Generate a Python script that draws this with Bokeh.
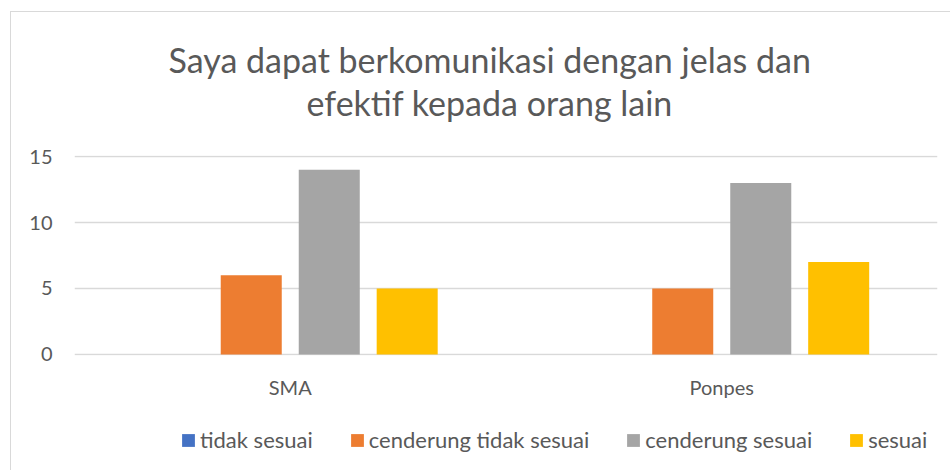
from bokeh.plotting import figure
from bokeh.layouts import column
from bokeh.models import (ColumnDataSource, FactorRange, Range1d, Legend, LegendItem,
                          Title, FixedTicker)
from bokeh.transform import dodge
from bokeh.embed import file_html
from bokeh.resources import INLINE

# ---- data ----
title_lines = ["Saya dapat berkomunikasi dengan jelas dan", "efektif kepada orang lain"]
categories = ["SMA", "Ponpes"]
series_names = ["tidak sesuai", "cenderung tidak sesuai", "cenderung sesuai", "sesuai"]
tidak_sesuai = [0, 0]
cenderung_tidak_sesuai = [6, 5]
cenderung_sesuai = [14, 13]
sesuai = [5, 7]
y_ticks = [0, 5, 10, 15]

# ---- styles ----
colors = ["#4472C4", "#ED7D31", "#A5A5A5", "#FFC000"]
FONT = "Lato"
TXT = "#595959"
GRID = "#D9D9D9"

src = ColumnDataSource(dict(
    cat=categories,
    s0=tidak_sesuai,
    s1=cenderung_tidak_sesuai,
    s2=cenderung_sesuai,
    s3=sesuai,
))

p = figure(
    x_range=FactorRange(*categories, range_padding=0),
    y_range=Range1d(-0.076, 15.076),
    frame_width=863, frame_height=200,
    min_border_left=63, min_border_right=13,
    min_border_top=143, min_border_bottom=50,
    output_backend="svg", toolbar_location=None, title=None,
)
p.outline_line_color = None
p.background_fill_color = "white"
p.border_fill_color = "white"

offsets = [-0.271, -0.0904, 0.0904, 0.271]
bar_w = 0.1414
for i, col in enumerate(["s0", "s1", "s2", "s3"]):
    p.vbar(x=dodge("cat", offsets[i], range=p.x_range), top=col, bottom=0,
           width=bar_w, source=src, fill_color=colors[i], line_color=None)

# axes
p.xgrid.grid_line_color = None
p.ygrid.ticker = FixedTicker(ticks=y_ticks)
p.ygrid.grid_line_color = GRID
p.ygrid.grid_line_width = 1.5

p.yaxis.ticker = FixedTicker(ticks=y_ticks)
for ax in (p.xaxis[0], p.yaxis[0]):
    ax.axis_line_color = None
    ax.major_tick_line_color = None
    ax.minor_tick_line_color = None
    ax.major_tick_out = 0
    ax.major_tick_in = 0
    ax.major_label_text_font = FONT
    ax.major_label_text_font_size = "20px"
    ax.major_label_text_color = TXT
p.yaxis.major_label_standoff = 22
p.xaxis.major_label_standoff = 19

# title: two lines, inner one first (closest to the plot)
p.add_layout(Title(text=title_lines[1] + "\n", align="left", offset=232, standoff=0,
                   text_font=FONT, text_font_size="34px", text_color=TXT,
                   text_font_style="normal", text_line_height=0.8), "above")
p.add_layout(Title(text=title_lines[0], align="left", offset=94, standoff=0,
                   text_font=FONT, text_font_size="34px", text_color=TXT,
                   text_font_style="normal"), "above")

# ---- legend strip (separate small figure, legend inside its frame) ----
lg = figure(
    x_range=Range1d(0, 1), y_range=Range1d(0, 1),
    width=939, height=65, sizing_mode="fixed",
    min_border_left=0, min_border_right=0, min_border_top=0, min_border_bottom=0,
    x_axis_location=None, y_axis_location=None,
    output_backend="svg", toolbar_location=None, title=None,
)
lg.outline_line_color = None
lg.grid.grid_line_color = None
lg.background_fill_color = "white"
lg.border_fill_color = "white"

leg_src = ColumnDataSource(dict(x=[-5.0], top=[0.0]))
leg_renderers = [
    lg.vbar(x="x", top="top", bottom=0, width=0.01, source=leg_src,
            fill_color=c, line_color=None)
    for c in colors
]

legend = Legend(
    items=[LegendItem(label=n, renderers=[r]) for n, r in zip(series_names, leg_renderers)],
    orientation="horizontal", location=(106, 17),
    glyph_width=16, glyph_height=16, label_standoff=4, spacing=36,
    padding=0, margin=0, border_line_color=None, background_fill_alpha=0,
    label_text_font=FONT, label_text_font_size="22px", label_text_color=TXT,
    label_height=24,
)
lg.add_layout(legend, "center")

layout = column(
    p, lg, spacing=0,
    styles={"margin-left": "10px", "margin-top": "11px",
            "border-left": "1px solid #D9D9D9", "border-top": "1px solid #D9D9D9"},
)

open("out.html", "w").write(file_html(layout, INLINE))
